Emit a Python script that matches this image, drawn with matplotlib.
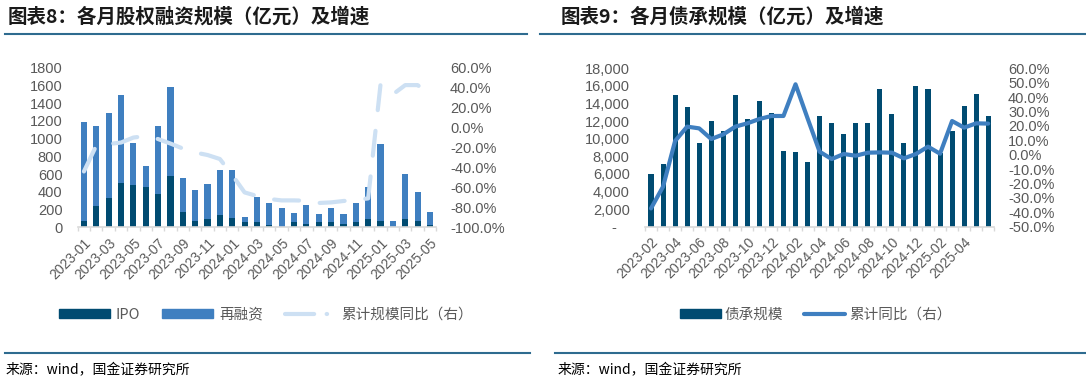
import matplotlib
matplotlib.use('Agg')
import matplotlib.pyplot as plt
from matplotlib.patches import Patch
from matplotlib.lines import Line2D
from matplotlib.ticker import FuncFormatter

plt.rcParams['font.family'] = ['Liberation Sans', 'Noto Sans CJK SC', 'DejaVu Sans']

# 图表8：各月股权融资规模（亿元）及增速
months_eq = ['2023-01', '2023-02', '2023-03', '2023-04', '2023-05', '2023-06', '2023-07', '2023-08',
             '2023-09', '2023-10', '2023-11', '2023-12', '2024-01', '2024-02', '2024-03', '2024-04',
             '2024-05', '2024-06', '2024-07', '2024-08', '2024-09', '2024-10', '2024-11', '2024-12',
             '2025-01', '2025-02', '2025-03', '2025-04', '2025-05']
ipo = [75, 244, 327, 496, 477, 458, 380, 582, 177, 75, 94, 139, 105, 64, 64, 26, 3, 64, 41, 64,
       64, 41, 56, 94, 75, 0, 94, 75, 26]
refin = [1109, 895, 958, 992, 474, 237, 759, 996, 383, 350, 398, 504, 538, 56, 274, 245, 219, 94,
         215, 90, 158, 113, 222, 364, 861, 71, 503, 320, 151]
eq_growth = [-44, -18, -16.5, -15, -10, -8.5, -11.5, -16, -21, -25, -27.5, -31.5, -47.5, -65, -68.6,
             -71.6, -73, -73, -73.3, -75.6, -75, -73.6, -72.6, -71, 43.3, 33.3, 42.6, 42.6, 33.3]

# 图表9：各月债承规模（亿元）及增速
months_bd = ['2023-02', '2023-03', '2023-04', '2023-05', '2023-06', '2023-07', '2023-08', '2023-09',
             '2023-10', '2023-11', '2023-12', '2024-01', '2024-02', '2024-03', '2024-04', '2024-05',
             '2024-06', '2024-07', '2024-08', '2024-09', '2024-10', '2024-11', '2024-12', '2025-01',
             '2025-02', '2025-03', '2025-04', '2025-05', '2025-06']
bonds = [5950, 7160, 14970, 13600, 9510, 12050, 10840, 14970, 12240, 14290, 12920, 8640, 8490, 7310,
         12580, 11750, 10540, 11750, 11750, 15650, 12770, 9510, 15990, 15690, 8340, 10880, 13760,
         15120, 12540]
bd_growth = [-37.3, -22.2, 9.5, 19.5, 18.3, 10.9, 14.1, 19.5, 21.8, 24.8, 26.9, 26.9, 48.9, 25.3,
             2.1, -3, 0.5, -0.7, 1.4, 1.6, 1.4, -2.5, 0.5, 5.6, 0.7, 23.4, 18.8, 21.8, 21.6]

dark = '#004B71'
mid = '#3F7FC0'
light = '#CDE0F3'
grey = '#595959'
rule = '#2E6B8F'
cjk = ['Noto Sans CJK SC', 'DejaVu Sans']

fig = plt.figure(figsize=(10.86, 3.84), dpi=100)


def style_axes(ax, ax2, x, labels_idx, labels):
    for a in (ax, ax2):
        for s in a.spines.values():
            s.set_visible(False)
    ax.spines['bottom'].set_visible(True)
    ax.spines['bottom'].set_color('#D9D9D9')
    ax.spines['bottom'].set_linewidth(1.2)
    ax.set_xlim(-0.5, len(x) - 0.5)
    ax.set_xticks(labels_idx)
    ax.set_xticklabels(labels, rotation=45, ha='right', va='top', rotation_mode='anchor')
    ax.set_xticks([i + 0.5 for i in range(-1, len(x))], minor=True)
    ax.tick_params(axis='x', which='major', length=0, pad=6, labelsize=10, labelcolor=grey)
    ax.tick_params(axis='x', which='minor', length=3, color='#D9D9D9', width=1)
    ax.tick_params(axis='y', length=0, pad=11, labelsize=10.5, labelcolor=grey)
    ax2.tick_params(axis='y', length=0, pad=10, labelsize=10.5, labelcolor=grey)


# ---- left chart
x1 = list(range(len(months_eq)))
ax = fig.add_axes([0.0716, 0.408, 0.330, 0.4156])
ax2 = ax.twinx()
ax.bar(x1, ipo, width=0.5, color=dark, zorder=2)
ax.bar(x1, refin, width=0.5, bottom=ipo, color=mid, zorder=2)
ax2.plot(x1, eq_growth, color=light, lw=3, linestyle=(0, (6, 5)), dash_capstyle='round', zorder=3)
ax.set_ylim(0, 1800)
ax.set_yticks(range(0, 1801, 200))
ax2.set_ylim(-100, 60)
ax2.set_yticks(range(-100, 61, 20))
ax2.yaxis.set_major_formatter(FuncFormatter(lambda v, p: f'{v:.1f}%'))
style_axes(ax, ax2, x1, x1[::2], months_eq[::2])
# line on top of the bars
ax2.set_zorder(2)
ax.set_zorder(1)
ax2.patch.set_visible(False)

h1 = [Patch(color=dark), Patch(color=mid),
      Line2D([], [], color=light, lw=3, linestyle=(0, (7, 3, 0.1, 3)), dash_capstyle='round')]
fig.legend(h1, ['IPO', '再融资', '累计规模同比（右）'], loc='center', bbox_to_anchor=(0.245, 0.18),
           ncol=3, frameon=False, handlelength=3.5, handleheight=0.55, handletextpad=0.4,
           columnspacing=1.5, prop={'family': cjk, 'size': 10.5}, labelcolor=grey)

# ---- right chart
x2 = list(range(len(months_bd)))
bx = fig.add_axes([0.5939, 0.4096, 0.3216, 0.4125])
bx2 = bx.twinx()
bx.bar(x2, bonds, width=0.42, color=dark, zorder=2)
bx2.plot(x2, bd_growth, color=mid, lw=3, solid_joinstyle='round', solid_capstyle='round', zorder=3)
bx.set_ylim(0, 18000)
bx.set_yticks(range(0, 18001, 2000))
bx.yaxis.set_major_formatter(FuncFormatter(lambda v, p: '-   ' if v == 0 else f'{int(v):,}'))
bx2.set_ylim(-50, 60)
bx2.set_yticks(range(-50, 61, 10))
bx2.yaxis.set_major_formatter(FuncFormatter(lambda v, p: f'{v:.1f}%'))
style_axes(bx, bx2, x2, x2[:27:2], months_bd[:27:2])
bx2.set_zorder(2)
bx.set_zorder(1)
bx2.patch.set_visible(False)

h2 = [Patch(color=dark), Line2D([], [], color=mid, lw=3, solid_capstyle='round')]
fig.legend(h2, ['债承规模', '累计同比（右）'], loc='center', bbox_to_anchor=(0.751, 0.18),
           ncol=2, frameon=False, handlelength=2.8, handleheight=0.55, handletextpad=0.3,
           columnspacing=1.4, prop={'family': cjk, 'size': 10.5}, labelcolor=grey)

# ---- titles, rules, sources
W, H = 1086, 384
fig.text(8 / W, 1 - 17 / H, '图表8：各月股权融资规模（亿元）及增速', family=cjk, fontsize=14,
         fontweight='bold', color='#1A1A1A', va='center')
fig.text(561 / W, 1 - 17 / H, '图表9：各月债承规模（亿元）及增速', family=cjk, fontsize=14,
         fontweight='bold', color='#1A1A1A', va='center')
for x0, x1_ in [(5, 527), (540, 1086)]:
    fig.add_artist(Line2D([x0 / W, x1_ / W], [1 - 34 / H] * 2, color=rule, lw=1.5))
for x0, x1_ in [(5, 530), (555, 1086)]:
    fig.add_artist(Line2D([x0 / W, x1_ / W], [1 - 353 / H] * 2, color=rule, lw=1.5))
fig.text(6 / W, 1 - 370 / H, '来源：wind，国金证券研究所', family=cjk, fontsize=10, color='#000000',
         va='center')
fig.text(558 / W, 1 - 370 / H, '来源：wind，国金证券研究所', family=cjk, fontsize=10, color='#000000',
         va='center')

fig.savefig('out.png', dpi=100)
